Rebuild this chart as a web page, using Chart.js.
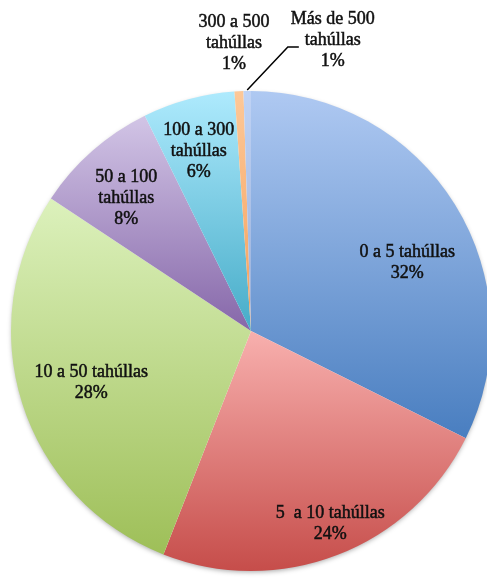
<!DOCTYPE html>
<html>
<head>
<meta charset="utf-8">
<script src="https://cdn.jsdelivr.net/npm/chart.js@4.4.1/dist/chart.umd.min.js"></script>
<style>
html,body{margin:0;padding:0;background:#ffffff;}
#wrap{width:487px;height:578px;}
</style>
</head>
<body>
<div id="wrap"><canvas id="c" width="487" height="578"></canvas></div>
<script>
// ---- data ----
const categories = ["0 a 5 tahúllas", "5  a 10 tahúllas", "10 a 50 tahúllas", "50 a 100 tahúllas", "100 a 300 tahúllas", "300 a 500 tahúllas", "Más de 500 tahúllas"];
const shares = [32.4, 23.6, 28.4, 8.4, 6.2, 0.6, 0.5];
const percentLabels = ["32%", "24%", "28%", "8%", "6%", "1%", "1%"];
const labelLines = [["0 a 5 tahúllas"], ["5  a 10 tahúllas"], ["10 a 50 tahúllas"], ["50 a 100", "tahúllas"], ["100 a 300", "tahúllas"], ["300 a 500", "tahúllas"], ["Más de 500", "tahúllas"]];

// ---- styles ----
const lightColors = ["#afc9f2", "#f8b0ae", "#dcf1bc", "#d2c5e6", "#aeeafd", "#fdc898", "#c0d3f5"];
const darkColors  = ["#497ec0", "#c64d4a", "#9ebf58", "#8667a9", "#46acc8", "#f4a05b", "#97aed8"];
const labelAngles = [66.5, 157.7, 251.9, 316.8, 343.8, 356.6, 15.7]; // deg clockwise from 12 o'clock
const labelRadii  = [0.71, 0.87, 0.70, 0.76, 0.78, 1.20, 1.26];      // fraction of radius
const RADIUS = 240;
const LABEL_FONT = "18px 'Liberation Serif', serif";
const LINE_H = 21;

function sliceGradient(context) {
  const i = context.dataIndex;
  const chart = context.chart;
  const area = chart.chartArea;
  if (i === undefined || !area) return darkColors[i || 0];
  const cx = (area.left + area.right) / 2, cy = (area.top + area.bottom) / 2;
  const total = shares.reduce((a, b) => a + b, 0);
  let a0 = -Math.PI / 2;
  for (let k = 0; k < i; k++) a0 += shares[k] / total * 2 * Math.PI;
  const a1 = a0 + shares[i] / total * 2 * Math.PI;
  const ys = [cy, cy + RADIUS * Math.sin(a0), cy + RADIUS * Math.sin(a1)];
  if (a0 < Math.PI / 2 && a1 > Math.PI / 2) ys.push(cy + RADIUS);
  const y0 = Math.min(...ys), y1 = Math.max(...ys);
  const g = chart.ctx.createLinearGradient(cx, y0, cx, y1 + 0.01);
  g.addColorStop(0, lightColors[i]);
  g.addColorStop(1, darkColors[i]);
  return g;
}

const shadowPlugin = {
  id: 'pieShadow',
  beforeDatasetsDraw(chart) {
    const arc = chart.getDatasetMeta(0).data[0];
    if (!arc) return;
    const p = arc.getProps(['x', 'y', 'outerRadius'], true);
    const ctx = chart.ctx;
    ctx.save();
    ctx.shadowColor = 'rgba(0,0,0,0.35)';
    ctx.shadowBlur = 5;
    ctx.shadowOffsetX = 0;
    ctx.shadowOffsetY = 2;
    ctx.beginPath();
    ctx.arc(p.x, p.y, p.outerRadius - 1, 0, Math.PI * 2);
    ctx.fillStyle = '#ffffff';
    ctx.fill();
    ctx.restore();
  }
};

const labelPlugin = {
  id: 'sliceLabels',
  afterDatasetsDraw(chart) {
    const meta = chart.getDatasetMeta(0);
    const arc0 = meta.data[0];
    if (!arc0) return;
    const p = arc0.getProps(['x', 'y', 'outerRadius'], true);
    const ctx = chart.ctx;
    ctx.save();
    ctx.font = LABEL_FONT;
    ctx.fillStyle = '#111111';
    ctx.strokeStyle = '#111111';
    ctx.lineWidth = 0.5;
    ctx.textAlign = 'center';
    ctx.textBaseline = 'middle';
    meta.data.forEach((arc, i) => {
      const ang = labelAngles[i] * Math.PI / 180;
      const r = labelRadii[i] * p.outerRadius;
      const lx = p.x + r * Math.sin(ang);
      const ly = p.y - r * Math.cos(ang);
      const lines = labelLines[i].concat([percentLabels[i]]);
      lines.forEach((t, j) => {
        const ty = ly + (j - (lines.length - 1) / 2) * LINE_H;
        ctx.fillText(t, lx, ty);
        ctx.strokeText(t, lx, ty);
      });
      if (i === shares.length - 1) {
        // leader line from the tiny slice to its label
        const a = arc.getProps(['startAngle', 'endAngle'], true);
        const mid = (a.startAngle + a.endAngle) / 2;
        const sx = p.x + (p.outerRadius + 1) * Math.cos(mid);
        const sy = p.y + (p.outerRadius + 1) * Math.sin(mid);
        ctx.save();
        ctx.beginPath();
        ctx.moveTo(sx, sy);
        ctx.lineTo(lx - 45, ly + 7);
        ctx.lineTo(lx - 34, ly + 7);
        ctx.strokeStyle = '#000000';
        ctx.lineWidth = 1.5;
        ctx.stroke();
        ctx.restore();
      }
    });
    ctx.restore();
  }
};

new Chart(document.getElementById('c'), {
  type: 'pie',
  data: {
    labels: categories,
    datasets: [{
      data: shares,
      backgroundColor: sliceGradient,
      borderWidth: 0,
      radius: RADIUS,
      clip: false
    }]
  },
  options: {
    responsive: false,
    animation: false,
    events: [],
    layout: { padding: { left: 15, right: 0, top: 84, bottom: 0 } },
    plugins: {
      legend: { display: false },
      tooltip: { enabled: false },
      title: { display: false }
    }
  },
  plugins: [shadowPlugin, labelPlugin]
});
</script>
</body>
</html>
